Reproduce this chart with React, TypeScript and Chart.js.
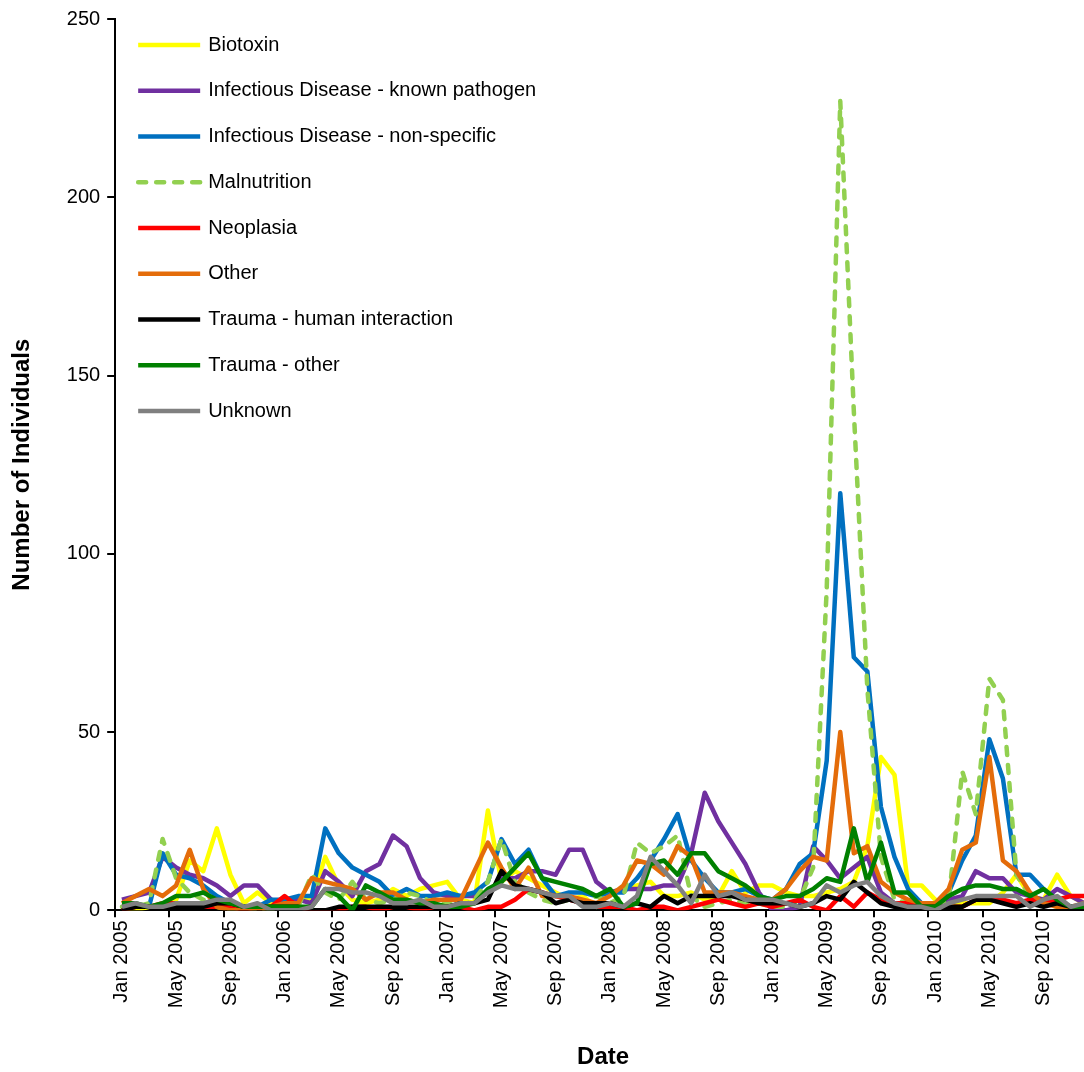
import React, { useEffect, useRef } from "react";
import { Chart, registerables } from "chart.js";

Chart.register(...registerables);

const MONTHS = ["Jan", "Feb", "Mar", "Apr", "May", "Jun", "Jul", "Aug", "Sep", "Oct", "Nov", "Dec"];
const YEARS = [2005, 2006, 2007, 2008, 2009, 2010];
const CATEGORIES = YEARS.flatMap((y) => MONTHS.map((m) => `${m} ${y}`));
const TICK_EVERY = 4;
const Y_MIN = 0;
const Y_MAX = 250;
const Y_STEP = 50;

const biotoxin = [
  1, 0, 1, 1, 3, 14, 11, 23, 10, 2, 5, 2,
  2, 3, 3, 15, 7, 3, 2, 3, 6, 4, 6, 7,
  8, 3, 2, 28, 8, 11, 9, 7, 5, 3, 4, 1,
  5, 6, 7, 8, 4, 4, 5, 3, 4, 11, 5, 7,
  7, 5, 4, 4, 5, 6, 8, 18, 43, 38, 7, 7,
  3, 2, 2, 2, 2, 5, 10, 4, 3, 10, 4, 2,
];
const knownPathogen = [
  3, 4, 5, 15, 12, 10, 9, 7, 4, 7, 7, 3,
  2, 3, 2, 11, 8, 4, 11, 13, 21, 18, 9, 5,
  4, 4, 4, 5, 9, 9, 11, 11, 10, 17, 17, 8,
  5, 6, 6, 6, 7, 7, 16, 33, 25, 19, 13, 5,
  0, 0, 1, 18, 14, 9, 12, 15, 5, 2, 1, 1,
  2, 3, 4, 11, 9, 9, 5, 4, 3, 6, 4, 2,
];
const nonSpecific = [
  1, 1, 1, 16, 10, 9, 7, 4, 2, 1, 1, 3,
  3, 4, 4, 23, 16, 12, 10, 8, 4, 6, 4, 4,
  5, 4, 5, 8, 20, 13, 17, 9, 4, 5, 5, 4,
  5, 5, 9, 14, 20, 27, 14, 9, 5, 5, 6, 4,
  3, 6, 13, 16, 42, 117, 71, 67, 29, 15, 6, 2,
  2, 5, 14, 21, 48, 37, 10, 10, 6, 3, 1, 1,
];
const malnutrition = [
  1, 1, 2, 20, 9, 5, 3, 1, 0, 1, 0, 0,
  1, 1, 10, 5, 3, 8, 3, 2, 3, 5, 4, 2,
  2, 1, 3, 8, 20, 8, 5, 3, 2, 3, 2, 4,
  2, 4, 19, 16, 18, 21, 4, 1, 2, 3, 2, 2,
  1, 1, 3, 12, 90, 227, 140, 62, 15, 3, 2, 1,
  1, 3, 39, 27, 65, 59, 10, 4, 2, 1, 1, 1,
];
const neoplasia = [
  0, 1, 1, 2, 2, 1, 1, 1, 1, 0, 1, 1,
  4, 1, 0, 0, 0, 1, 1, 0, 1, 1, 0, 1,
  1, 1, 0, 1, 1, 3, 6, 5, 4, 3, 2, 1,
  1, 1, 0, 1, 1, 0, 1, 2, 3, 2, 1, 2,
  1, 2, 3, 1, 0, 4, 1, 5, 3, 2, 2, 1,
  1, 1, 1, 3, 3, 3, 2, 3, 2, 3, 4, 4,
];
const other = [
  2, 4, 6, 4, 7, 17, 6, 1, 0, 0, 0, 1,
  2, 2, 9, 8, 7, 6, 3, 5, 5, 3, 2, 3,
  3, 3, 11, 19, 12, 6, 12, 4, 4, 4, 3, 2,
  4, 7, 14, 13, 10, 18, 15, 5, 5, 5, 4, 3,
  3, 6, 11, 15, 14, 50, 16, 18, 8, 5, 3, 2,
  2, 6, 17, 19, 43, 14, 11, 5, 2, 1, 1, 2,
];
const traumaHuman = [
  0, 1, 1, 1, 1, 1, 1, 2, 2, 1, 1, 1,
  1, 1, 0, 0, 1, 1, 1, 1, 1, 1, 1, 1,
  1, 2, 2, 3, 11, 7, 6, 5, 2, 3, 2, 2,
  2, 1, 2, 1, 4, 2, 4, 4, 4, 4, 3, 2,
  2, 2, 1, 2, 4, 3, 8, 5, 2, 1, 1, 1,
  1, 1, 1, 3, 3, 2, 1, 2, 1, 2, 1, 1,
];
const traumaOther = [
  2, 2, 1, 2, 4, 4, 5, 3, 2, 1, 1, 1,
  1, 1, 1, 6, 4, 0, 7, 5, 3, 3, 2, 2,
  1, 1, 2, 6, 8, 12, 16, 9, 8, 7, 6, 4,
  6, 1, 2, 13, 14, 10, 16, 16, 11, 9, 7, 4,
  3, 4, 4, 6, 9, 8, 23, 8, 19, 5, 5, 1,
  1, 4, 6, 7, 7, 6, 6, 4, 6, 3, 1, 1,
];
const unknown = [
  1, 2, 1, 1, 2, 2, 2, 3, 3, 1, 2, 0,
  0, 0, 1, 6, 6, 5, 5, 4, 2, 2, 3, 1,
  1, 2, 2, 5, 7, 6, 6, 5, 4, 4, 1, 1,
  2, 1, 4, 15, 11, 7, 2, 10, 4, 5, 3, 3,
  3, 2, 1, 2, 7, 5, 7, 8, 4, 2, 1, 1,
  0, 2, 3, 4, 4, 4, 4, 1, 3, 4, 1, 2,
];

const SERIES_NAMES = [
  "Biotoxin",
  "Infectious Disease - known pathogen",
  "Infectious Disease - non-specific",
  "Malnutrition",
  "Neoplasia",
  "Other",
  "Trauma - human interaction",
  "Trauma - other",
  "Unknown",
];
const SERIES_VALUES = [biotoxin, knownPathogen, nonSpecific, malnutrition, neoplasia, other, traumaHuman, traumaOther, unknown];
const SERIES_COLORS = ["#FFFF00", "#7030A0", "#0070C0", "#92D050", "#FF0000", "#E46C0A", "#000000", "#008000", "#808080"];
const DASHED = [false, false, false, true, false, false, false, false, false];

const FONT = '"Liberation Sans", Arial, sans-serif';

const insideLegend = {
  id: "insideLegend",
  afterDraw(chart: any) {
    const { ctx, chartArea } = chart;
    ctx.save();
    chart.data.datasets.forEach((ds: any, i: number) => {
      const y = chartArea.top + 26 + i * 45.75;
      const x0 = chartArea.left + 23;
      const x1 = chartArea.left + 85;
      ctx.beginPath();
      ctx.strokeStyle = ds.borderColor;
      ctx.lineWidth = ds.borderWidth;
      ctx.lineCap = ds.borderCapStyle || "butt";
      ctx.setLineDash(ds.borderDash || []);
      ctx.moveTo(x0, y);
      ctx.lineTo(x1, y);
      ctx.stroke();
      ctx.setLineDash([]);
      ctx.fillStyle = "#000";
      ctx.font = `20px ${FONT}`;
      ctx.textBaseline = "middle";
      ctx.textAlign = "left";
      ctx.fillText(ds.label, chartArea.left + 93, y);
    });
    ctx.restore();
  },
};

export default function App() {
  const ref = useRef<HTMLCanvasElement>(null);
  useEffect(() => {
    Chart.defaults.font.family = FONT;
    const datasets = SERIES_NAMES.map((name, i) => ({
      label: name,
      data: SERIES_VALUES[i],
      borderColor: SERIES_COLORS[i],
      backgroundColor: SERIES_COLORS[i],
      borderWidth: 4.5,
      borderDash: DASHED[i] ? [8, 10] : [],
      borderCapStyle: DASHED[i] ? "round" : "butt",
      borderJoinStyle: "round",
      pointRadius: 0,
      pointHoverRadius: 0,
      tension: 0,
      fill: false,
      order: SERIES_NAMES.length - i,
    }));
    const chart = new Chart(ref.current!, {
      type: "line",
      data: { labels: CATEGORIES, datasets: datasets as any },
      plugins: [insideLegend],
      options: {
        animation: false,
        responsive: false,
        devicePixelRatio: 1,
        layout: { padding: { top: 6, right: 0, bottom: 0, left: 0 } },
        plugins: { legend: { display: false }, tooltip: { enabled: false } },
        scales: {
          x: {
            type: "category",
            offset: true,
            afterFit: (scale: any) => {
              scale.paddingRight = 0;
              scale.paddingLeft = 0;
            },
            grid: {
              offset: true,
              drawOnChartArea: false,
              drawTicks: true,
              tickLength: 7,
              lineWidth: 2,
              color: (c: any) => (typeof c.index === "number" && c.index % TICK_EVERY === 0 ? "#000" : "rgba(0,0,0,0)"),
            },
            border: { display: true, color: "#000", width: 2 },
            ticks: {
              autoSkip: false,
              minRotation: 90,
              maxRotation: 90,
              padding: 3,
              color: "#000",
              font: { size: 20, family: FONT },
              callback: (_v: any, i: number) => (i % TICK_EVERY === 0 ? CATEGORIES[i] : ""),
            },
            title: {
              display: true,
              text: "Date",
              color: "#000",
              font: { size: 24, weight: "bold", family: FONT },
              padding: { top: 32, bottom: 0 },
            },
          },
          y: {
            min: Y_MIN,
            max: Y_MAX,
            grid: { drawOnChartArea: false, drawTicks: true, tickLength: 8, lineWidth: 2, color: "#000" },
            border: { display: true, color: "#000", width: 2 },
            ticks: { stepSize: Y_STEP, padding: 7, color: "#000", font: { size: 20, family: FONT } },
            title: {
              display: true,
              text: "Number of Individuals",
              color: "#000",
              font: { size: 24, weight: "bold", family: FONT },
              padding: { top: 8, bottom: 23 },
            },
          },
        },
      },
    });
    return () => chart.destroy();
  }, []);
  return (
    <div style={{ position: "absolute", left: 0, top: 0, width: 1084, height: 1072, background: "#fff", overflow: "hidden" }}>
      <canvas ref={ref} width={1091} height={1072} style={{ display: "block" }} />
    </div>
  );
}
